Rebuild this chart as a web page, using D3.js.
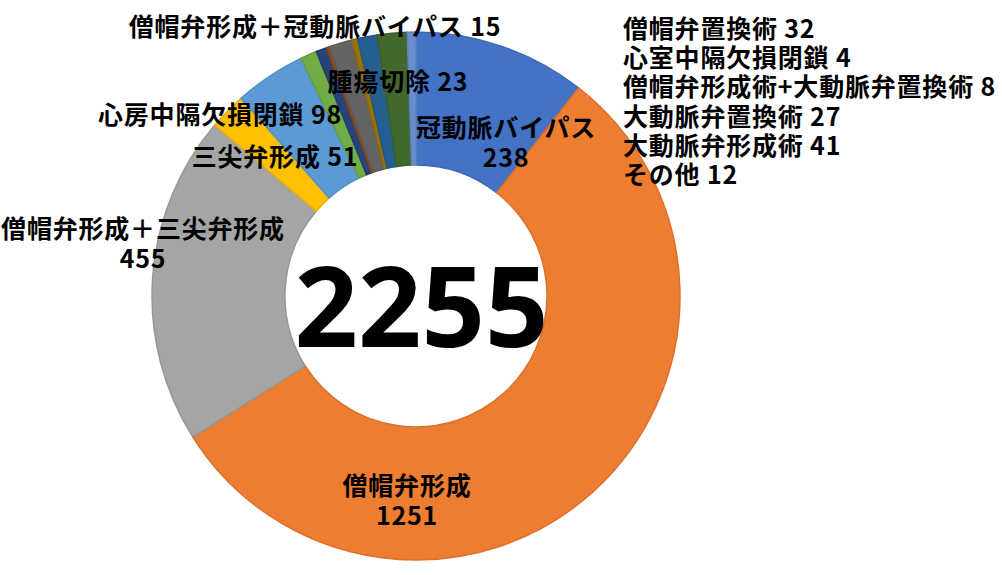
<!DOCTYPE html>
<html><head><meta charset="utf-8">
<script src="https://cdn.jsdelivr.net/npm/d3@7"></script>
<style>html,body{margin:0;padding:0;background:#fff;}svg{display:block;}</style>
</head><body>
<svg id="c" width="1002" height="575"></svg>
<script>
const categories = ["冠動脈バイパス","僧帽弁形成","僧帽弁形成＋三尖弁形成","三尖弁形成","心房中隔欠損閉鎖",
  "腫瘍切除","僧帽弁形成＋冠動脈バイパス","心室中隔欠損閉鎖","僧帽弁置換術","僧帽弁形成術+大動脈弁置換術",
  "大動脈弁置換術","大動脈弁形成術","その他"];
const values = [238,1251,455,51,98,23,15,4,32,8,27,41,12];
const colors = ["#4472C4","#ED7D31","#A5A5A5","#FFC000","#5B9BD5","#70AD47","#264478","#9E480E","#636363","#997300","#255E91","#43682B","#698ED0"];
const totalLabel = "2255";
// order of categories listed at right
const rightList = ["僧帽弁置換術","心室中隔欠損閉鎖","僧帽弁形成術+大動脈弁置換術","大動脈弁置換術","大動脈弁形成術","その他"];

// layout
const cx = 416, cy = 296, rOuter = 264, rInner = 131;
const labelFont = "'Noto Sans CJK JP', 'Noto Sans', sans-serif";
const placed = {
  "冠動脈バイパス": {x:506, y:126, split:true},
  "僧帽弁形成": {x:407, y:484, split:true},
  "僧帽弁形成＋三尖弁形成": {x:143, y:227, split:true},
  "三尖弁形成": {x:275, y:155},
  "心房中隔欠損閉鎖": {x:220, y:113},
  "腫瘍切除": {x:398, y:80},
  "僧帽弁形成＋冠動脈バイパス": {x:315, y:25}
};
const listX = 623, listY0 = 27, listStep = 29.2;

const svg = d3.select("#c");
const pie = d3.pie().sort(null).value(d => d.v)(categories.map((c,i)=>({c, v:values[i], col:colors[i]})));
const arc = d3.arc().innerRadius(rInner).outerRadius(rOuter);
const g = svg.append("g").attr("transform",`translate(${cx},${cy})`);
g.selectAll("path").data(pie).join("path")
  .attr("d", arc)
  .attr("fill", d => d.data.col)
  .attr("stroke", d => d3.color(d.data.col).darker(0.25))
  .attr("stroke-width", 1.5)
  .attr("stroke-linejoin","round");

// center total
svg.append("text").attr("x", 421.5).attr("y", 304)
  .attr("text-anchor","middle").attr("dominant-baseline","central")
  .attr("font-family","'Noto Sans', 'Open Sans', sans-serif").attr("font-weight",700)
  .attr("font-size",111).attr("fill","#000").text(totalLabel);

// labels placed around chart
const lab = svg.append("g").attr("font-family",labelFont).attr("font-weight",700)
  .attr("font-size",25).attr("letter-spacing",0.8).attr("fill","#000");
pie.forEach(d => {
  const p = placed[d.data.c];
  if (!p) return;
  if (p.split) {
    const t = lab.append("text").attr("text-anchor","middle");
    t.append("tspan").attr("x",p.x).attr("y",p.y).attr("dominant-baseline","central").text(d.data.c);
    t.append("tspan").attr("x",p.x).attr("y",p.y+30).attr("dominant-baseline","central").text(d.data.v);
  } else {
    lab.append("text").attr("text-anchor","middle").attr("x",p.x).attr("y",p.y)
      .attr("dominant-baseline","central").text(d.data.c + " " + d.data.v);
  }
});
const listText = lab.append("text");
rightList.forEach((c,i) => {
  const v = values[categories.indexOf(c)];
  listText.append("tspan").attr("x",listX).attr("y",listY0 + i*listStep)
    .attr("dominant-baseline","central").text(c + " " + v);
});
</script>
</body></html>
